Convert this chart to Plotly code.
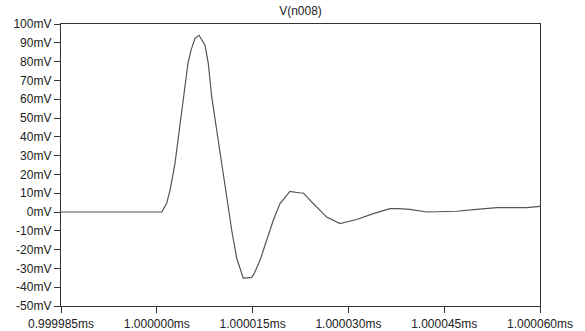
import plotly.graph_objects as go

# time offset from 1.000000 ms, in ns
t_ns = [-15.0, 0.77, 1.55, 2.07, 2.85, 3.52, 4.30, 4.88, 5.35, 5.98, 6.61, 7.55, 8.06,
        8.60, 9.38, 10.16, 10.94, 11.73, 12.51, 13.54, 14.86, 15.27, 16.16, 17.21,
        18.24, 19.29, 20.85, 22.42, 22.94, 24.50, 26.60, 28.68, 31.30, 33.90, 36.51,
        37.81, 39.64, 42.26, 46.95, 50.09, 53.22, 57.91, 60.0]
v_mV = [0.0, 0.0, 4.6, 11.5, 25.9, 43.5, 61.2, 79.1, 86.0, 92.4, 94.0, 88.7, 79.1,
        61.2, 43.5, 25.9, 8.0, -9.7, -24.6, -35.2, -34.8, -32.6, -25.7, -15.1,
        -4.4, 4.5, 11.0, 10.1, 10.1, 4.5, -2.7, -6.2, -4.0, -0.9, 1.8,
        1.8, 1.4, 0.0, 0.4, 1.4, 2.3, 2.3, 3.0]

x_tickvals = [-15, 0, 15, 30, 45, 60]
x_ticklabels = ["0.999985ms", "1.000000ms", "1.000015ms", "1.000030ms", "1.000045ms", "1.000060ms"]
y_tickvals = [100, 90, 80, 70, 60, 50, 40, 30, 20, 10, 0, -10, -20, -30, -40, -50]
y_ticklabels = [f"{v}mV" for v in y_tickvals]

fig = go.Figure()
fig.add_trace(go.Scatter(x=t_ns, y=v_mV, mode="lines",
                         line=dict(color="#555555", width=1.2), showlegend=False))

axis_font = dict(family="Liberation Sans, Arial, sans-serif", size=12, color="#222222")
fig.update_layout(
    width=585, height=331,
    margin=dict(l=61, r=45, t=24, b=25),
    paper_bgcolor="white", plot_bgcolor="white",
    title=dict(text="V(n008)", x=(61 + 540) / 2 / 585, xanchor="center",
               y=1 - 11 / 331, yanchor="middle", automargin=False,
               font=dict(family="Liberation Sans, Arial, sans-serif", size=12, color="#222222")),
    xaxis=dict(range=[-15, 60], tickvals=x_tickvals, ticktext=x_ticklabels,
               showgrid=False, zeroline=False, showline=True, linecolor="#333333",
               linewidth=1.3, mirror=True, ticks="outside", ticklen=6, tickcolor="#333333",
               tickfont=axis_font, automargin=False),
    yaxis=dict(range=[-50, 100], tickvals=y_tickvals, ticktext=y_ticklabels,
               showgrid=False, zeroline=False, showline=True, linecolor="#333333",
               linewidth=1.3, mirror=True, ticks="outside", ticklen=6, tickcolor="#333333",
               tickfont=axis_font, ticklabelstandoff=0, automargin=False),
)

fig.write_html("out.html")
